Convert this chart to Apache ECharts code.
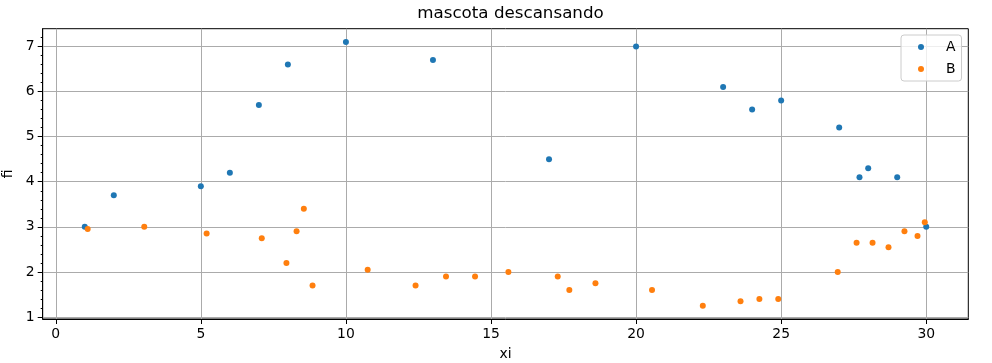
<!DOCTYPE html>
<html>
<head>
<meta charset="utf-8">
<script src="https://cdn.jsdelivr.net/npm/echarts@6/dist/echarts.min.js"></script>
<style>html,body{margin:0;padding:0;background:#fff}#c{width:992px;height:363px}</style>
</head>
<body>
<div id="c"></div>
<script>
var titleText = "mascota descansando";
var xName = "xi";
var yName = "fi";
var xTicks = [0, 5, 10, 15, 20, 25, 30];
var yTicks = [1, 2, 3, 4, 5, 6, 7];
var seriesNames = ["A", "B"];
var aX = [1, 2, 5, 6, 7, 8, 10, 13, 17, 20, 23, 24, 25, 27, 27.7, 28, 29, 30];
var aY = [3, 3.7, 3.9, 4.2, 5.7, 6.6, 7.1, 6.7, 4.5, 7, 6.1, 5.6, 5.8, 5.2, 4.1, 4.3, 4.1, 3];
var bX = [1.1, 3.05, 5.2, 7.1, 7.95, 8.3, 8.55, 8.85, 10.75, 12.4, 13.45, 14.45, 15.6, 17.3, 17.7, 18.6, 20.55, 22.3, 23.6, 24.25, 24.9, 26.95, 27.6, 28.15, 28.7, 29.25, 29.7, 29.95];
var bY = [2.95, 3.0, 2.85, 2.75, 2.2, 2.9, 3.4, 1.7, 2.05, 1.7, 1.9, 1.9, 2.0, 1.9, 1.6, 1.75, 1.6, 1.25, 1.35, 1.4, 1.4, 2.0, 2.65, 2.65, 2.55, 2.9, 2.8, 3.1];

var yMinor = [];
for (var v = 10; v <= 73; v += 2) yMinor.push(v / 10);

function pairs(xs, ys) { return xs.map(function (x, i) { return [x, ys[i]]; }); }

var font = "DejaVu Sans";
var xMin = -0.45, xMax = 31.45, yMin = 0.9575, yMax = 7.3925;

var chart = echarts.init(document.getElementById('c'), null, { renderer: 'canvas' });
chart.setOption({
  animation: false,
  backgroundColor: '#ffffff',
  textStyle: { fontFamily: font },
  title: {
    text: titleText, left: 505.5, top: 0, textAlign: 'center',
    textStyle: { fontFamily: font, fontSize: 16.7, fontWeight: 'normal', color: '#000' }
  },
  grid: { left: 42.7, right: 23.7, top: 28.7, bottom: 44, show: true, borderColor: '#000', borderWidth: 1, backgroundColor: 'transparent', outerBoundsMode: 'none', containLabel: false },
  legend: {
    left: 901, top: 35, orient: 'vertical',
    padding: [4.5, 6, 4.5, 17], itemGap: 7,
    itemWidth: 6, itemHeight: 6, icon: 'circle',
    borderColor: '#cccccc', borderWidth: 1, borderRadius: 3, backgroundColor: 'rgba(255,255,255,0.8)',
    textStyle: { fontFamily: font, fontSize: 13.9, color: '#000', lineHeight: 15, padding: [0, 0, 0, 17] },
    data: seriesNames
  },
  xAxis: [
    {
      type: 'value', min: xMin, max: xMax,
      name: xName, nameLocation: 'middle', nameGap: 28,
      nameTextStyle: { fontFamily: font, fontSize: 13.9, color: '#000' },
      axisLine: { show: true, onZero: false, lineStyle: { color: '#000', width: 1 } },
      axisTick: { show: true, length: 5, customValues: xTicks, lineStyle: { color: '#000' } },
      axisLabel: { customValues: xTicks, margin: 8, fontFamily: font, fontSize: 13.9, color: '#000', showMinLabel: true, showMaxLabel: true },
      splitLine: { show: true, lineStyle: { color: '#ababab', width: 1 } }
    }
  ],
  yAxis: [
    {
      type: 'value', min: yMin, max: yMax,
      name: yName, nameLocation: 'middle', nameGap: 25, nameRotate: 90,
      nameTextStyle: { fontFamily: font, fontSize: 13.9, color: '#000' },
      axisLine: { show: true, onZero: false, lineStyle: { color: '#000', width: 1 } },
      axisTick: { show: true, length: 5, customValues: yTicks, lineStyle: { color: '#000' } },
      axisLabel: { customValues: yTicks, margin: 8, fontFamily: font, fontSize: 13.9, color: '#000' },
      splitLine: { show: true, lineStyle: { color: '#ababab', width: 1 } }
    },
    {
      type: 'value', min: yMin, max: yMax, position: 'left',
      axisLine: { show: false, onZero: false }, axisLabel: { show: false },
      axisTick: { show: true, length: 2, customValues: yMinor, lineStyle: { color: '#000' } },
      splitLine: { show: false }
    }
  ],
  series: [
    {
      name: seriesNames[0], type: 'scatter', xAxisIndex: 0, yAxisIndex: 0,
      symbol: 'circle', symbolSize: 6, itemStyle: { color: '#1f77b4', opacity: 1 },
      data: pairs(aX, aY), z: 5
    },
    {
      name: seriesNames[1], type: 'scatter', xAxisIndex: 0, yAxisIndex: 0,
      symbol: 'circle', symbolSize: 6, itemStyle: { color: '#ff7f0e', opacity: 1 },
      data: pairs(bX, bY), z: 6
    }
  ]
});
</script>
</body>
</html>
